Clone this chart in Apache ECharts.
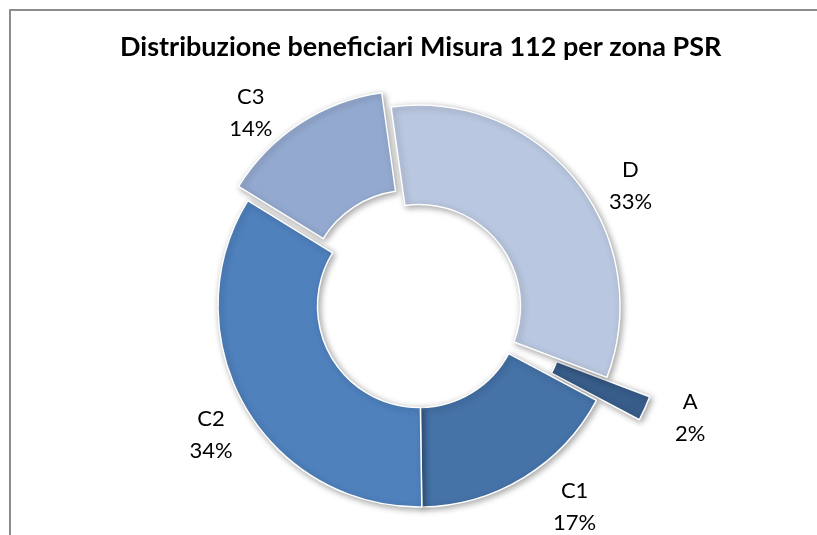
<!DOCTYPE html>
<html>
<head>
<meta charset="utf-8">
<script src="https://cdn.jsdelivr.net/npm/echarts@6/dist/echarts.min.js"></script>
<style>
html,body{margin:0;padding:0;background:#fff;}
#chart{width:817px;height:535px;}
</style>
</head>
<body>
<div id="chart"></div>
<script>
// ---- data ----
const titleText = 'Distribuzione beneficiari Misura 112 per zona PSR';
const categories = ['D', 'A', 'C1', 'C2', 'C3'];
const values = [33, 2, 17, 34, 14];

// ---- styles ----
const colors = ['#B9C7E0', '#385D8A', '#4572A7', '#4F81BD', '#93A9CF'];
const explodeOffset = [0, 47, 0, 0, 17];
const labelNudge = [[20, 33], [48, 11], [28, -8], [5, 8], [-34, 12]];
const FONT = 'Lato';

const chart = echarts.init(document.getElementById('chart'), null, {renderer: 'canvas'});

const sliceStyle = i => ({
  color: colors[i],
  borderColor: '#ffffff',
  borderWidth: 1.5,
  shadowBlur: 6,
  shadowOffsetX: 2,
  shadowOffsetY: 2,
  shadowColor: 'rgba(0,0,0,0.35)'
});
const hiddenStyle = {
  color: 'rgba(0,0,0,0)',
  borderWidth: 0,
  shadowBlur: 0,
  shadowColor: 'rgba(0,0,0,0)'
};

const common = {
  type: 'pie',
  center: [419, 306],
  radius: [101.5, 201],
  startAngle: 98,
  clockwise: true,
  avoidLabelOverlap: false,
  silent: true,
  animation: false,
  emphasis: {scale: false}
};

// Exploded slices: sectors only (labels drawn by the base series)
const explodedSeries = [...new Set(explodeOffset)].filter(o => o > 0).map(off => Object.assign({}, common, {
  selectedMode: 'multiple',
  selectedOffset: off,
  label: {show: false},
  labelLine: {show: false},
  data: categories.map((c, i) => ({
    name: c,
    value: values[i],
    selected: explodeOffset[i] === off,
    itemStyle: explodeOffset[i] === off ? sliceStyle(i) : hiddenStyle
  }))
}));

// Base series: non-exploded sectors + all labels
const baseSeries = Object.assign({}, common, {
  selectedMode: false,
  z: 3,
  label: {
    show: true,
    position: 'outside',
    formatter: '{b}\n{d}%',
    fontFamily: FONT,
    fontSize: 22,
    lineHeight: 32,
    color: '#000',
    distanceToLabelLine: 0
  },
  labelLine: {show: false, length: 44, length2: 0},
  labelLayout: function (p) {
    const n = labelNudge[p.dataIndex] || [0, 0];
    const pts = p.labelLinePoints;
    let ax, ay;
    if (pts && pts.length) {
      ax = pts[pts.length - 1][0];
      ay = pts[pts.length - 1][1];
    } else {
      const r = p.labelRect;
      ax = p.align === 'left' ? r.x : (p.align === 'right' ? r.x + r.width : r.x + r.width / 2);
      ay = r.y + r.height / 2;
    }
    return {x: ax + n[0], y: ay + n[1], align: 'center', verticalAlign: 'middle'};
  },
  data: categories.map((c, i) => ({
    name: c,
    value: values[i],
    itemStyle: explodeOffset[i] === 0 ? sliceStyle(i) : hiddenStyle
  }))
});

chart.setOption({
  backgroundColor: '#ffffff',
  animation: false,
  title: {
    text: titleText,
    left: 120,
    top: 34,
    padding: 0,
    textStyle: {fontFamily: FONT, fontWeight: 'bold', fontSize: 27, color: '#000'}
  },
  graphic: [{
    type: 'rect',
    shape: {x: 10, y: 10, width: 830, height: 560},
    style: {fill: 'none', stroke: '#8c8c8c', lineWidth: 2},
    silent: true,
    z: -1
  }],
  series: [baseSeries].concat(explodedSeries)
});
</script>
</body>
</html>
